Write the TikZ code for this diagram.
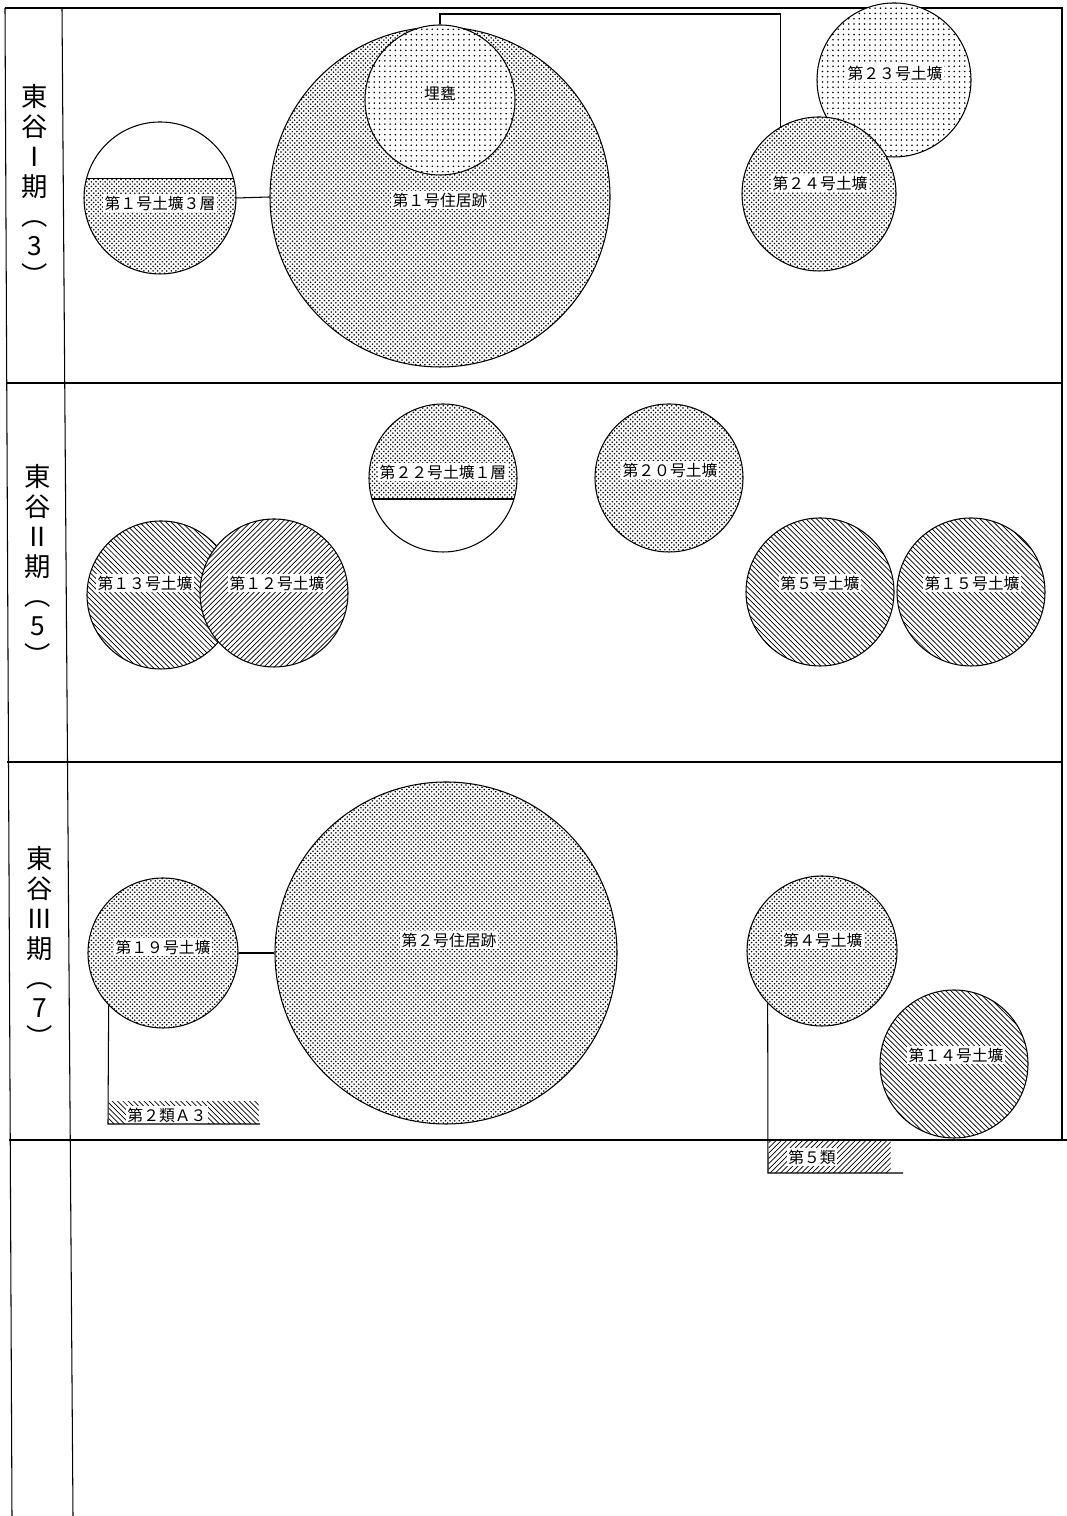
\documentclass[tikz,border=0pt]{standalone}
\usepackage{fontspec}
\newfontfamily\jpfont{Noto Sans CJK JP}
\usetikzlibrary{patterns}

% close dot screen of the pit fills
\pgfdeclarepatternformonly{densedots}{\pgfqpoint{-1pt}{-1pt}}{\pgfqpoint{4pt}{4pt}}{\pgfqpoint{2.6pt}{2.6pt}}{
  \pgfpathcircle{\pgfqpoint{0pt}{0pt}}{.5pt}
  \pgfpathcircle{\pgfqpoint{1.3pt}{1.3pt}}{.5pt}
  \pgfusepath{fill}}

\begin{document}
\begin{tikzpicture}[x=0.2mm, y=0.2mm, line width=0.6pt,
  every node/.style={font=\jpfont\fontsize{9}{10}\selectfont},
  pit/.style={circle, draw, inner sep=0pt, minimum size=#1*0.4mm},
  dense/.style={preaction={fill=white}, pattern=densedots},
  sparse/.style={preaction={fill=white}, pattern=dots},
  hatchne/.style={preaction={fill=white}, pattern=north east lines},
  hatchnw/.style={preaction={fill=white}, pattern=north west lines},
  tag/.style={fill=white, inner sep=1pt},
  period/.style={align=center, font=\jpfont\fontsize{15}{17}\selectfont}]
  \useasboundingbox (0,0) rectangle (1067,1516);
  % Frame
  \draw (5,1508) -- (1062,1508) -- (1062,376);
  \draw (5,1508) -- (12,0);
  \draw (62,1508) -- (73,0);
  \draw (6,1133) -- (1062,1133);
  \draw (7,754) -- (1062,754);
  \draw (9,376) -- (1067,376);
  % Period labels
  \node[period] (ph1) at (35,1331) {東\\谷\\Ⅰ\\期\\︵\\3\\︶};
  \node[period] (ph2) at (38,951) {東\\谷\\Ⅱ\\期\\︵\\5\\︶};
  \node[period] (ph3) at (40,569) {東\\谷\\Ⅲ\\期\\︵\\7\\︶};
  % Period I
  \node[pit=76, path picture={
      \fill[pattern=densedots] (path picture bounding box.south west)
        rectangle ([yshift=3.9mm]path picture bounding box.east);
      \draw ([yshift=3.9mm]path picture bounding box.west)
        -- ([yshift=3.9mm]path picture bounding box.east);}] (pA) at (160,1318) {};
  \node[tag] (lA) at (160,1313) {第１号土壙３層};
  \node[pit=170, dense] (h1) at (440,1319) {};
  \node[tag] (lh1) at (440,1316) {第１号住居跡};
  \node[pit=75, sparse] (jar) at (440,1416) {};
  \node[tag] (ljar) at (440,1423) {埋甕};
  \draw (pA.east) -- (h1.west);
  \node[pit=77, sparse] (p23) at (894,1436) {};
  \node[tag] (l23) at (895,1443) {第２３号土壙};
  \node[pit=77, dense] (p24) at (819,1322) {};
  \node[tag] (l24) at (820,1333) {第２４号土壙};
  \coordinate (k1) at (440,1502);
  \draw (jar.north) -- (k1) -| (p24.120);
  % Period II
  \node[pit=74, path picture={
      \fill[pattern=densedots] (path picture bounding box.north west)
        rectangle ([yshift=-4.2mm]path picture bounding box.east);
      \draw ([yshift=-4.2mm]path picture bounding box.west)
        -- ([yshift=-4.2mm]path picture bounding box.east);}] (p22) at (443,1038) {};
  \node[tag] (l22) at (443,1044) {第２２号土壙１層};
  \node[pit=74, dense] (p20) at (669,1038) {};
  \node[tag] (l20) at (670,1046) {第２０号土壙};
  \node[pit=74, hatchnw] (p13) at (161,921) {};
  \node[pit=74, hatchne] (p12) at (274,923) {};
  \node[tag] (l13) at (145,933) {第１３号土壙};
  \node[tag] (l12) at (277,933) {第１２号土壙};
  \node[pit=74, hatchnw] (p5) at (820,924) {};
  \node[tag] (l5) at (820,933) {第５号土壙};
  \node[pit=74, hatchnw] (p15) at (971,924) {};
  \node[tag] (l15) at (972,933) {第１５号土壙};
  % Period III
  \node[pit=75, dense] (p19) at (163,563) {};
  \node[tag] (l19) at (163,569) {第１９号土壙};
  \node[pit=171, dense] (h2) at (446,563) {};
  \node[tag] (lh2) at (449,576) {第２号住居跡};
  \draw (p19.east) -- (h2.west);
  \node[anchor=south west, inner sep=0pt, minimum width=30mm, minimum height=4.4mm,
    pattern=north west lines] (s2) at (108,392) {};
  \node[tag] (ls2) at (167,401) {第２類Ａ３};
  \draw (p19.224) -- (s2.south west) -- ([xshift=0.2mm]s2.south east);
  \node[pit=75, dense] (p4) at (822,565) {};
  \node[tag] (l4) at (823,576) {第４号土壙};
  \node[pit=74, hatchnw] (p14) at (954,452) {};
  \node[tag] (l14) at (956,461) {第１４号土壙};
  \node[anchor=south west, inner sep=0pt, minimum width=24.4mm, minimum height=6.4mm,
    pattern=north east lines] (s5) at (768,343) {};
  \node[tag] (ls5) at (812,359) {第５類};
  \draw (p4.224) -- (s5.south west) -- ([xshift=2.4mm]s5.south east);
\end{tikzpicture}
\end{document}
